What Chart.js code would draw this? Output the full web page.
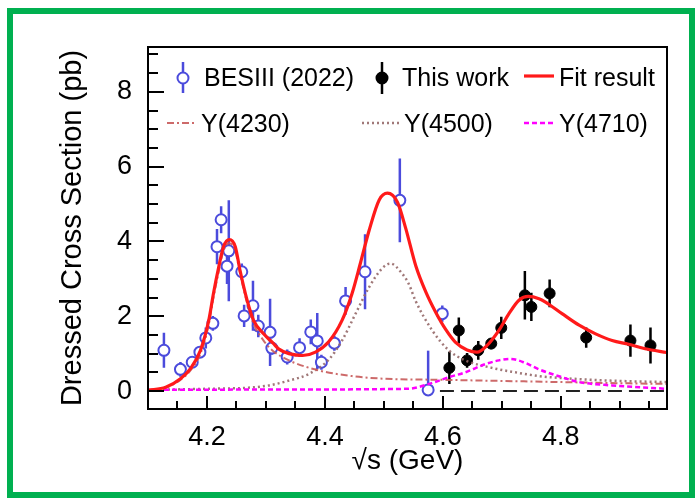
<!DOCTYPE html>
<html lang="en">
<head>
<meta charset="UTF-8">
<title>Dressed Cross Section</title>
<script src="https://cdn.jsdelivr.net/npm/chart.js"></script>
<style>
  body { margin: 0; background: #fff; }
  #wrap { position: relative; width: 700px; height: 502px; }
</style>
</head>
<body>
<div id="wrap"><canvas id="xsChart"></canvas></div>
<script>
// BESIII (2022) points
const besE = [4.127, 4.155, 4.175, 4.188, 4.198, 4.210, 4.217, 4.224, 4.234, 4.237, 4.259, 4.263, 4.278, 4.287,
              4.307, 4.310, 4.336, 4.357, 4.376, 4.387, 4.394, 4.416, 4.435, 4.468, 4.527, 4.575, 4.599];
const besY = [1.09, 0.58, 0.77, 1.04, 1.42, 1.81, 3.86, 4.58, 3.34, 3.75, 3.19, 2.01, 2.28, 1.74,
              1.57, 1.15, 0.91, 1.16, 1.58, 1.34, 0.77, 1.28, 2.41, 3.19, 5.10, 0.03, 2.07];
const besErrLo = [0.47, 0.20, 0.15, 0.15, 0.28, 0.20, 0.47, 0.36, 0.48, 1.35, 0.22, 0.30, 0.67, 0.30,
                  0.90, 0.18, 0.20, 0.25, 0.33, 0.75, 0.20, 0.20, 0.37, 1.00, 1.12, 0.00, 0.22];
const besErrHi = [0.47, 0.20, 0.15, 0.15, 0.28, 0.20, 0.47, 0.36, 0.48, 1.35, 0.22, 0.30, 0.67, 0.30,
                  0.90, 0.18, 0.20, 0.25, 0.33, 0.75, 0.20, 0.20, 0.37, 1.00, 1.12, 1.05, 0.22];

// This work points
const thisE = [4.611, 4.627, 4.641, 4.660, 4.682, 4.699, 4.739, 4.750, 4.781, 4.843, 4.918, 4.952];
const thisY = [0.62, 1.62, 0.82, 1.09, 1.27, 1.69, 2.56, 2.25, 2.61, 1.43, 1.35, 1.22];
const thisErr = [0.43, 0.35, 0.20, 0.25, 0.15, 0.30, 0.65, 0.38, 0.37, 0.27, 0.43, 0.48];

// fit result
const fitE = [4.100, 4.130, 4.155, 4.172, 4.189, 4.203, 4.211, 4.220, 4.228, 4.238, 4.248, 4.256, 4.268, 4.279,
              4.296, 4.312, 4.322, 4.339, 4.362, 4.384, 4.406, 4.429, 4.446, 4.460, 4.475, 4.492, 4.506, 4.523,
              4.537, 4.554, 4.571, 4.588, 4.605, 4.621, 4.641, 4.658, 4.675, 4.695, 4.712, 4.729, 4.745, 4.763,
              4.774, 4.802, 4.831, 4.859, 4.887, 4.915, 4.943, 4.980];
const fitY = [0.02, 0.10, 0.33, 0.60, 1.09, 1.89, 2.61, 3.32, 3.86, 4.05, 3.86, 3.23, 2.43, 1.89,
              1.53, 1.28, 1.12, 1.00, 0.95, 1.04, 1.31, 1.89, 2.61, 3.41, 4.30, 5.11, 5.29, 5.05,
              4.35, 3.35, 2.65, 2.10, 1.64, 1.31, 1.10, 1.04, 1.22, 1.62, 2.07, 2.43, 2.53, 2.47,
              2.38, 2.07, 1.76, 1.53, 1.35, 1.25, 1.13, 1.03];

// components
const y4230E = [4.100, 4.130, 4.155, 4.172, 4.189, 4.203, 4.211, 4.220, 4.228, 4.238, 4.248, 4.256, 4.268, 4.279,
                4.296, 4.310, 4.339, 4.390, 4.446, 4.500, 4.600, 4.700, 4.800, 4.900, 4.980];
const y4230Y = [0.02, 0.09, 0.30, 0.55, 1.00, 1.78, 2.50, 3.20, 3.75, 3.95, 3.75, 3.15, 2.35, 1.80,
                1.35, 1.10, 0.82, 0.55, 0.40, 0.33, 0.30, 0.27, 0.24, 0.21, 0.19];
const y4500E = [4.100, 4.200, 4.270, 4.305, 4.339, 4.373, 4.407, 4.429, 4.452, 4.475, 4.497, 4.511, 4.531, 4.542,
                4.554, 4.582, 4.610, 4.638, 4.683, 4.723, 4.763, 4.830, 4.900, 4.980];
const y4500Y = [0.03, 0.06, 0.09, 0.15, 0.28, 0.46, 0.85, 1.35, 2.07, 2.78, 3.28, 3.41, 3.14, 2.87,
                2.40, 1.62, 1.09, 0.82, 0.62, 0.50, 0.40, 0.32, 0.27, 0.24];
const y4710E = [4.100, 4.300, 4.540, 4.582, 4.610, 4.638, 4.672, 4.695, 4.714, 4.740, 4.763, 4.802, 4.831, 4.887, 4.980];
const y4710Y = [0.03, 0.04, 0.06, 0.22, 0.37, 0.50, 0.72, 0.82, 0.86, 0.75, 0.58, 0.37, 0.24, 0.15, 0.06];

// dashed zero line in the new-data region
const zeroE = [4.595, 4.980];
const zeroY = [0, 0];

// axis ticks
const xTickVals = [4.2, 4.4, 4.6, 4.8];
const yTickVals = [0, 2, 4, 6, 8];

const pts = (xs, ys) => xs.map((x, i) => ({ x: x, y: ys[i] }));

const BLUE = '#4b4bdc';
const FONT = "'Liberation Sans', Arial, sans-serif";

const errorBars = {
  id: 'errorBars',
  beforeDatasetsDraw(chart) {
    const { ctx, chartArea, scales: { x, y } } = chart;
    ctx.save();
    ctx.beginPath();
    ctx.rect(chartArea.left, chartArea.top, chartArea.width, chartArea.height);
    ctx.clip();
    chart.data.datasets.forEach(ds => {
      if (!ds.errLo) return;
      ctx.strokeStyle = ds.borderColor;
      ctx.lineWidth = 2.5;
      const r = ds.open ? ds.pointRadius : 0;
      ds.data.forEach((p, i) => {
        const px = x.getPixelForValue(p.x);
        const py = y.getPixelForValue(p.y);
        const top = y.getPixelForValue(p.y + ds.errHi[i]);
        const bot = y.getPixelForValue(p.y - ds.errLo[i]);
        ctx.beginPath();
        if (top < py - r) { ctx.moveTo(px, py - r); ctx.lineTo(px, top); }
        if (bot > py + r) { ctx.moveTo(px, py + r); ctx.lineTo(px, bot); }
        ctx.stroke();
      });
    });
    ctx.restore();
  }
};

const frame = {
  id: 'frame',
  afterDraw(chart) {
    const { ctx, chartArea: a, scales: { x, y } } = chart;
    ctx.save();
    // green outer border
    ctx.strokeStyle = '#00b050';
    ctx.lineWidth = 6;
    ctx.strokeRect(10, 11, 682, 484);

    // plot frame
    ctx.strokeStyle = '#000';
    ctx.lineWidth = 2;
    ctx.strokeRect(a.left, a.top, a.width, a.height);

    // inward ticks
    ctx.beginPath();
    for (let v = 4.15; v < 4.98; v += 0.05) {
      const px = Math.round(x.getPixelForValue(v));
      const major = xTickVals.some(t => Math.abs(t - v) < 1e-6);
      ctx.moveTo(px, a.bottom);
      ctx.lineTo(px, a.bottom - (major ? 13 : 8));
    }
    for (let v = 0; v < 9.2; v += 0.5) {
      const py = Math.round(y.getPixelForValue(v));
      const major = yTickVals.some(t => Math.abs(t - v) < 1e-6);
      ctx.moveTo(a.left, py);
      ctx.lineTo(a.left + (major ? 16 : 10), py);
    }
    ctx.stroke();

    // legend
    const ds = chart.data.datasets;
    ctx.font = '25px ' + FONT;
    ctx.textBaseline = 'middle';
    ctx.textAlign = 'left';

    const marker = (d, mx, my) => {
      ctx.setLineDash([]);
      ctx.strokeStyle = d.borderColor;
      ctx.lineWidth = 2.5;
      ctx.beginPath();
      if (d.open) {
        ctx.moveTo(mx, my - 16); ctx.lineTo(mx, my - d.pointRadius);
        ctx.moveTo(mx, my + d.pointRadius); ctx.lineTo(mx, my + 15);
      } else {
        ctx.moveTo(mx, my - 16); ctx.lineTo(mx, my + 16);
      }
      ctx.stroke();
      ctx.beginPath();
      ctx.arc(mx, my, d.pointRadius, 0, Math.PI * 2);
      ctx.fillStyle = d.pointBackgroundColor;
      ctx.fill();
      ctx.lineWidth = 2;
      ctx.stroke();
    };
    const line = (d, x0, x1, ly) => {
      ctx.strokeStyle = d.borderColor;
      ctx.lineWidth = d.borderWidth;
      ctx.setLineDash(d.borderDash || []);
      ctx.beginPath();
      ctx.moveTo(x0, ly); ctx.lineTo(x1, ly);
      ctx.stroke();
      ctx.setLineDash([]);
    };

    marker(ds[5], 183, 78);
    marker(ds[6], 382, 78);
    line(ds[0], 524, 554, 76);
    line(ds[1], 167, 194, 123);
    line(ds[2], 362, 400, 123);
    line(ds[3], 524, 556, 123);

    ctx.fillStyle = '#000';
    ctx.fillText(ds[5].label, 204, 79);
    ctx.fillText(ds[6].label, 402, 79);
    ctx.fillText(ds[0].label, 559, 79);
    ctx.fillText(ds[1].label, 201, 125);
    ctx.fillText(ds[2].label, 404, 125);
    ctx.fillText(ds[3].label, 559, 125);
    ctx.restore();
  }
};

const curve = (label, xs, ys, color, width, dash, order) => ({
  label: label,
  data: pts(xs, ys),
  showLine: true,
  borderColor: color,
  borderWidth: width,
  borderDash: dash,
  pointRadius: 0,
  cubicInterpolationMode: 'monotone',
  order: order
});

new Chart(document.getElementById('xsChart'), {
  type: 'scatter',
  data: {
    datasets: [
      curve('Fit result', fitE, fitY, '#ff1a1a', 3.2, [], 0),
      curve('Y(4230)', y4230E, y4230Y, 'rgba(200,90,90,0.9)', 2, [7, 3, 2, 3], 2),
      curve('Y(4500)', y4500E, y4500Y, 'rgba(150,105,105,0.9)', 2.5, [2, 3], 2),
      curve('Y(4710)', y4710E, y4710Y, '#ff00ff', 2.5, [5, 3], 1),
      curve('', zeroE, zeroY, '#222', 2, [14, 7], 3),
      {
        label: 'BESIII (2022)',
        data: pts(besE, besY),
        errLo: besErrLo,
        errHi: besErrHi,
        open: true,
        borderColor: BLUE,
        pointBackgroundColor: '#fff',
        pointBorderColor: BLUE,
        pointBorderWidth: 2,
        pointRadius: 5.5,
        order: 5
      },
      {
        label: 'This work',
        data: pts(thisE, thisY),
        errLo: thisErr,
        errHi: thisErr,
        open: false,
        borderColor: '#000',
        pointBackgroundColor: '#000',
        pointBorderColor: '#000',
        pointBorderWidth: 1,
        pointRadius: 5.5,
        order: 5
      }
    ]
  },
  options: {
    responsive: true,
    maintainAspectRatio: false,
    animation: false,
    layout: { padding: { top: 47, right: 33, left: 0, bottom: 0 } },
    plugins: { legend: { display: false }, tooltip: { enabled: false } },
    scales: {
      x: {
        type: 'linear',
        min: 4.1,
        max: 4.98,
        grid: { display: false },
        border: { display: false },
        afterBuildTicks: s => { s.ticks = xTickVals.map(v => ({ value: v })); },
        afterFit: s => { s.height = 93; },
        ticks: {
          padding: 4,
          color: '#000',
          font: { family: FONT, size: 27 },
          callback: v => v.toFixed(1)
        },
        title: {
          display: true,
          text: '√s (GeV)',
          color: '#000',
          font: { family: FONT, size: 28 },
          padding: { top: 0, bottom: 24 }
        }
      },
      y: {
        min: -0.48,
        max: 9.2,
        grid: { display: false },
        border: { display: false },
        afterBuildTicks: s => { s.ticks = yTickVals.map(v => ({ value: v })); },
        afterFit: s => { s.width = 148; },
        ticks: {
          padding: 8,
          color: '#000',
          font: { family: FONT, size: 27 },
          callback: v => String(v)
        },
        title: {
          display: true,
          text: 'Dressed Cross Section (pb)',
          color: '#000',
          font: { family: FONT, size: 29 },
          padding: { top: 56, bottom: 0 }
        }
      }
    }
  },
  plugins: [errorBars, frame]
});
</script>
</body>
</html>
